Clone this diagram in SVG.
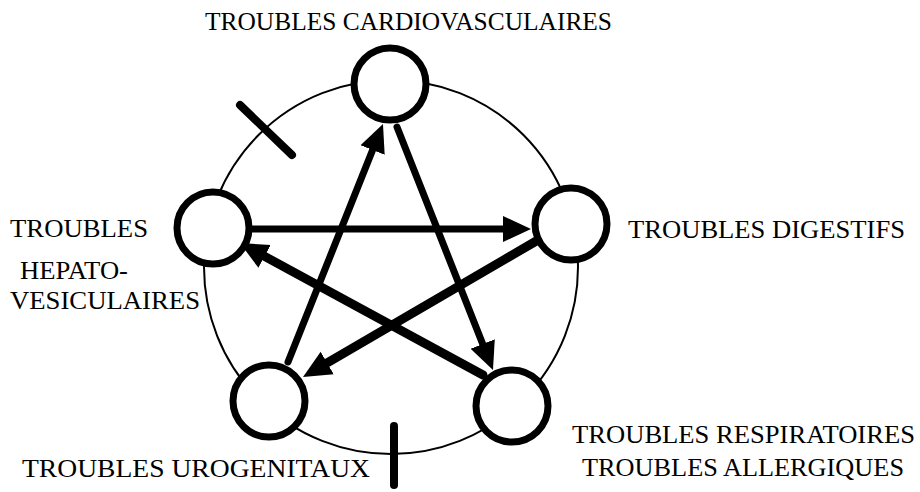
<svg xmlns="http://www.w3.org/2000/svg" width="920" height="492" viewBox="0 0 920 492">
<style>
.lbl{font-family:"Liberation Serif","Times New Roman",serif;font-size:26px;fill:#000}
.node{fill:#fff;stroke:#000;stroke-width:7}
.ring{fill:none;stroke:#000;stroke-width:2}
.tick{stroke:#000;stroke-width:8;stroke-linecap:round}
.arr{fill:none;stroke:#000;stroke-linecap:round;marker-end:url(#ah)}
.w1{stroke-width:7}
.w2{stroke-width:9}
</style>
<defs>
<marker id="ah" markerUnits="userSpaceOnUse" viewBox="0 -14 30 28" refX="0" refY="0" markerWidth="30" markerHeight="28" orient="auto">
<path d="M0,-13 L28,0 L0,13 z" fill="#000"/>
</marker>
</defs>
<rect width="920" height="492" fill="#fff"/>
<circle class="ring" cx="391" cy="267" r="187"/>
<line class="tick" x1="240" y1="105" x2="292" y2="155"/>
<line class="tick" x1="394" y1="426" x2="394" y2="485"/>
<g id="connectors">
<line class="arr w1" x1="288" y1="362" x2="372.6" y2="150"/>
<line class="arr w1" x1="397" y1="127" x2="482.7" y2="344"/>
<line class="arr w1" x1="250" y1="229" x2="503" y2="229"/>
<line class="arr w2" x1="538" y1="240" x2="327.2" y2="362.9"/>
<line class="arr w2" x1="483" y1="375" x2="264.6" y2="256.4"/>
</g>
<g id="node-cardio"><circle class="node" cx="390" cy="84" r="36"/><text class="lbl" x="205" y="30" textLength="407" lengthAdjust="spacingAndGlyphs">TROUBLES CARDIOVASCULAIRES</text></g>
<g id="node-hepato"><circle class="node" cx="213" cy="228" r="36"/><text class="lbl" x="10" y="237" textLength="138" lengthAdjust="spacingAndGlyphs">TROUBLES</text><text class="lbl" x="20" y="279" textLength="108" lengthAdjust="spacingAndGlyphs">HEPATO-</text><text class="lbl" x="10" y="309" textLength="190" lengthAdjust="spacingAndGlyphs">VESICULAIRES</text></g>
<g id="node-digestif"><circle class="node" cx="571" cy="224" r="36"/><text class="lbl" x="628" y="238" textLength="277" lengthAdjust="spacingAndGlyphs">TROUBLES DIGESTIFS</text></g>
<g id="node-respi"><circle class="node" cx="512" cy="406" r="36"/><text class="lbl" x="572" y="443" textLength="343" lengthAdjust="spacingAndGlyphs">TROUBLES RESPIRATOIRES</text><text class="lbl" x="582" y="476" textLength="322" lengthAdjust="spacingAndGlyphs">TROUBLES ALLERGIQUES</text></g>
<g id="node-uro"><circle class="node" cx="269" cy="401" r="36"/><text class="lbl" x="22" y="477" textLength="348" lengthAdjust="spacingAndGlyphs">TROUBLES UROGENITAUX</text></g>
</svg>
